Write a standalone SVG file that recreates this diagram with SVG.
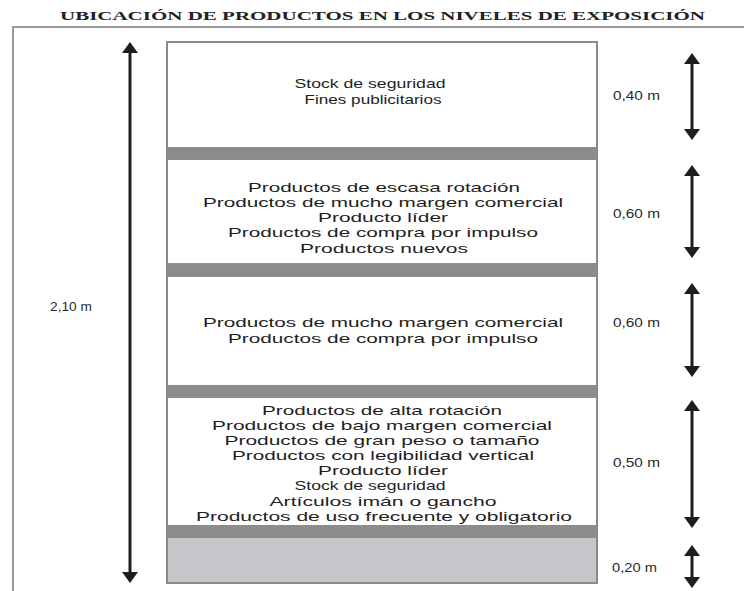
<svg xmlns="http://www.w3.org/2000/svg" width="744" height="591" viewBox="0 0 744 591">
<style>
.t{font-family:"Liberation Sans",Arial,sans-serif;font-size:13px;fill:#1e1e1e;text-anchor:middle}
.lbl{font-family:"Liberation Sans",Arial,sans-serif;font-size:13px;fill:#2a2a2a}
.title{font-family:"Liberation Serif","Times New Roman",serif;font-size:13px;font-weight:bold;fill:#222}
.bar{fill:#8c8c8c}
.arr{stroke:#1e1e1e;stroke-width:3;fill:none;marker-start:url(#hs);marker-end:url(#he)}
</style>
<defs>
<marker id="he" markerUnits="userSpaceOnUse" markerWidth="11" markerHeight="16" refX="0" refY="8" orient="auto" viewBox="0 0 11 16">
<path d="M0,0 L11,8 L0,16 Z" fill="#1e1e1e"/>
</marker>
<marker id="hs" markerUnits="userSpaceOnUse" markerWidth="11" markerHeight="16" refX="0" refY="8" orient="auto-start-reverse" viewBox="0 0 11 16">
<path d="M0,0 L11,8 L0,16 Z" fill="#1e1e1e"/>
</marker>
</defs>
<rect width="744" height="591" fill="#fff"/>
<text class="title" x="60" y="20" textLength="645" lengthAdjust="spacingAndGlyphs">UBICACIÓN DE PRODUCTOS EN LOS NIVELES DE EXPOSICIÓN</text>
<path d="M13,591 L13,27 L744,27" fill="none" stroke="#9a9a9a" stroke-width="2"/>

<g id="shelf">
<rect x="167" y="42" width="430" height="541" fill="#fff" stroke="#8a8a8a" stroke-width="2"/>
<rect class="bar" x="168" y="147" width="428" height="13"/>
<rect class="bar" x="168" y="263" width="428" height="14"/>
<rect class="bar" x="168" y="385" width="428" height="13"/>
<rect class="bar" x="168" y="525" width="428" height="13"/>
<rect x="168" y="538" width="428" height="44" fill="#c6c6ca"/>
</g>

<g id="nivel1">
<text class="t" x="370" y="88" textLength="151" lengthAdjust="spacingAndGlyphs">Stock de seguridad</text>
<text class="t" x="373" y="104" textLength="137" lengthAdjust="spacingAndGlyphs">Fines publicitarios</text>
</g>
<g id="nivel2">
<text class="t" x="384" y="192" textLength="272" lengthAdjust="spacingAndGlyphs">Productos de escasa rotación</text>
<text class="t" x="383" y="207" textLength="360" lengthAdjust="spacingAndGlyphs">Productos de mucho margen comercial</text>
<text class="t" x="383" y="222" textLength="130" lengthAdjust="spacingAndGlyphs">Producto líder</text>
<text class="t" x="383" y="237" textLength="310" lengthAdjust="spacingAndGlyphs">Productos de compra por impulso</text>
<text class="t" x="384" y="253" textLength="168" lengthAdjust="spacingAndGlyphs">Productos nuevos</text>
</g>
<g id="nivel3">
<text class="t" x="383" y="327" textLength="360" lengthAdjust="spacingAndGlyphs">Productos de mucho margen comercial</text>
<text class="t" x="383" y="343" textLength="310" lengthAdjust="spacingAndGlyphs">Productos de compra por impulso</text>
</g>
<g id="nivel4">
<text class="t" x="382" y="415" textLength="240" lengthAdjust="spacingAndGlyphs">Productos de alta rotación</text>
<text class="t" x="382" y="430" textLength="340" lengthAdjust="spacingAndGlyphs">Productos de bajo margen comercial</text>
<text class="t" x="382" y="445" textLength="315" lengthAdjust="spacingAndGlyphs">Productos de gran peso o tamaño</text>
<text class="t" x="383" y="460" textLength="302" lengthAdjust="spacingAndGlyphs">Productos con legibilidad vertical</text>
<text class="t" x="383" y="475" textLength="130" lengthAdjust="spacingAndGlyphs">Producto líder</text>
<text class="t" x="370" y="490" textLength="151" lengthAdjust="spacingAndGlyphs">Stock de seguridad</text>
<text class="t" x="383" y="506" textLength="227" lengthAdjust="spacingAndGlyphs">Artículos imán o gancho</text>
<text class="t" x="384" y="521" textLength="376" lengthAdjust="spacingAndGlyphs">Productos de uso frecuente y obligatorio</text>
</g>

<g id="labels">
<text class="lbl" x="50" y="311" textLength="42" lengthAdjust="spacingAndGlyphs">2,10 m</text>
<text class="lbl" x="613" y="100" textLength="47" lengthAdjust="spacingAndGlyphs">0,40 m</text>
<text class="lbl" x="613" y="218" textLength="47" lengthAdjust="spacingAndGlyphs">0,60 m</text>
<text class="lbl" x="613" y="327" textLength="47" lengthAdjust="spacingAndGlyphs">0,60 m</text>
<text class="lbl" x="613" y="467" textLength="47" lengthAdjust="spacingAndGlyphs">0,50 m</text>
<text class="lbl" x="612" y="572" textLength="45" lengthAdjust="spacingAndGlyphs">0,20 m</text>
</g>

<g id="connectors">
<line class="arr" x1="130" y1="53" x2="130" y2="572"/>
<line class="arr" x1="692" y1="64" x2="692" y2="129"/>
<line class="arr" x1="692" y1="176" x2="692" y2="247"/>
<line class="arr" x1="692" y1="294" x2="692" y2="366"/>
<line class="arr" x1="692" y1="411" x2="692" y2="517"/>
<line class="arr" x1="692" y1="556" x2="692" y2="577"/>
</g>
</svg>
